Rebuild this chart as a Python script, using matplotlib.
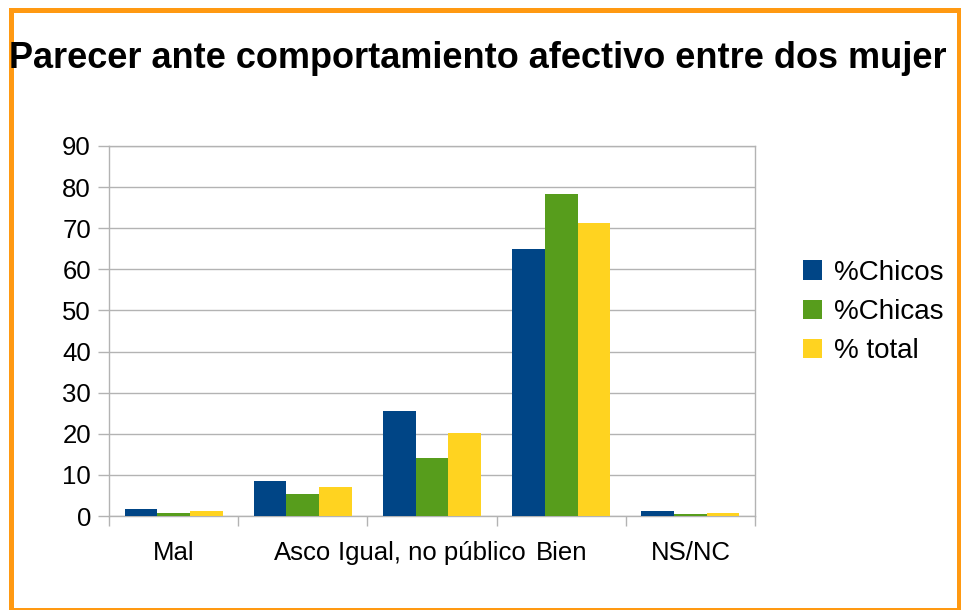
import matplotlib
matplotlib.use("Agg")
import matplotlib.pyplot as plt
import numpy as np
from matplotlib.patches import Rectangle

plt.rcParams["font.family"] = ["Liberation Sans", "DejaVu Sans"]

categorias = ["Mal", "Asco", "Igual, no público", "Bien", "NS/NC"]
chicos = [1.7, 8.5, 25.6, 65.0, 1.2]
chicas = [0.8, 5.4, 14.1, 78.3, 0.5]
total = [1.2, 7.1, 20.2, 71.3, 0.7]
series = ["%Chicos", "%Chicas", "% total"]
colores = ["#004586", "#579d1c", "#ffd320"]
titulo = "Parecer ante comportamiento afectivo entre dos mujer"

W, H = 962, 610
fig = plt.figure(figsize=(W / 100, H / 100), dpi=100)
ax = fig.add_axes([109 / W, 1 - 516 / H, (755 - 109) / W, (516 - 146) / H])

x = np.arange(len(categorias))
ancho = 0.253
for i, (vals, nombre, col) in enumerate(zip([chicos, chicas, total], series, colores)):
    ax.bar(x + (i - 1) * ancho, vals, width=ancho, color=col, label=nombre, zorder=3)

gris = "#b3b3b3"
ax.set_xlim(-0.5, len(categorias) - 0.5)
ax.set_ylim(0, 90)
ax.set_yticks(range(0, 91, 10))
ax.yaxis.grid(True, color=gris, linewidth=1, zorder=0)
ax.set_axisbelow(True)
for s in ax.spines.values():
    s.set_color(gris)
    s.set_linewidth(1)

ax.set_xticks(x)
ax.set_xticklabels(categorias)
ax.set_xticks(np.arange(-0.5, len(categorias), 1), minor=True)
ax.tick_params(axis="x", which="major", length=0, pad=18, labelsize=18.5)
ax.tick_params(axis="x", which="minor", length=7, color=gris, width=1)
ax.tick_params(axis="y", length=8, color=gris, width=1, pad=5, labelsize=18.5)

ax.legend(loc="center left", bbox_to_anchor=(803 / W, 1 - 312 / H),
          bbox_transform=fig.transFigure, frameon=False, fontsize=20,
          handlelength=0.7, handleheight=0.7, handletextpad=0.43,
          labelspacing=0.48, borderpad=0, borderaxespad=0)

t = fig.text(9 / W, 1 - 68 / H, titulo, fontsize=26, fontweight="bold",
             ha="left", va="baseline")
clip = Rectangle((0, 0), 946 / W, 1, transform=fig.transFigure, visible=False)
fig.add_artist(clip)
t.set_clip_path(clip)

fig.add_artist(Rectangle((11 / W, 0), (959.5 - 11) / W, 1 - 9.5 / H,
                         transform=fig.transFigure, fill=False,
                         edgecolor="#ff9912", linewidth=3.6))

fig.savefig("out.png", dpi=100)
